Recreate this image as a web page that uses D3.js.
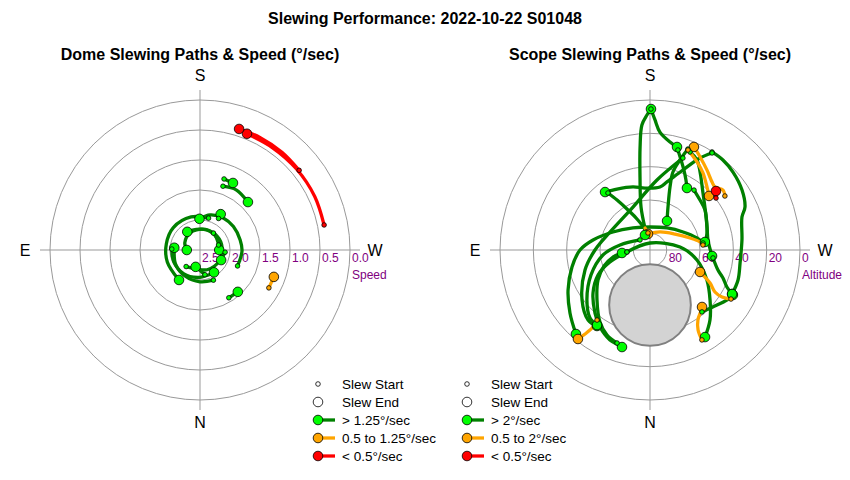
<!DOCTYPE html>
<html><head><meta charset="utf-8">
<script src="https://cdn.jsdelivr.net/npm/d3@7"></script>
<style>body{margin:0;background:#fff;} svg{display:block;font-family:Arial,"Liberation Sans",sans-serif;}</style>
</head><body><svg id="c" width="850" height="480"></svg>
<script>
const mainTitle = "Slewing Performance: 2022-10-22 S01048";
const domeTitle = "Dome Slewing Paths & Speed (°/sec)";
const scopeTitle = "Scope Slewing Paths & Speed (°/sec)";
const compass = [["S",180],["E",90],["W",270],["N",0]];
const speedTicks = [0.0,0.5,1.0,1.5,2.0,2.5];
const speedTickLabels = ["0.0","0.5","1.0","1.5","2.0","2.5"];
const altTicks = [0,20,40,60,80];
const altTickLabels = ["0","20","40","60","80"];
const domeLegend = ["Slew Start","Slew End","> 1.25°/sec","0.5 to 1.25°/sec","< 0.5°/sec"];
const scopeLegend = ["Slew Start","Slew End","> 2°/sec","0.5 to 2°/sec","< 0.5°/sec"];
const legendClasses = ["start","end","g","o","r"];

// dome slews: [azimuth°, speed°/s, speed class of segment]
const domePaths = [
 [[258.6,0.39,"r"],[245,0.39,"r"],[230,0.40,"r"],[215,0.41,"r"],[202,0.41,"r"]],
 [[231.2,0.38,"r"],[220,0.375,"r"],[208,0.375,"r"],[197.9,0.38,"r"]],
 [[198.7,1.25,"g"],[206.2,1.255,"g"]],
 [[199.8,1.37,"g"],[211,1.33,"g"],[225,1.37,"g"]],
 [[328.9,1.57,"g"],[317.9,1.56,"g"]],
 [[298.8,1.19,"o"],[290,1.19,"o"]],
 [[293,1.82,"g"],[272,1.80,"g"],[256,1.81,"g"],[235,1.82,"g"],[216,1.84,"g"],[196,1.89,"g"],[179,1.98,"g"]],
 [[210.5,1.89,"g"],[210,1.81,"g"]],
 [[195,1.95,"g"],[165,1.93,"g"],[130,1.92,"g"],[100,1.93,"g"],[70,1.92,"g"],[35,1.89,"g"]],
 [[40,2.14,"g"],[15,2.18,"g"],[340,2.15,"g"],[300,2.13,"g"],[270,2.13,"g"],[240,2.13,"g"],[205,2.14,"g"],[170,2.15,"g"],[145,2.13,"g"]],
 [[255,2.18,"g"],[225,2.15,"g"],[190,2.15,"g"],[150,2.17,"g"],[115,2.22,"g"],[90,2.28,"g"]],
 [[92,2.03,"g"],[65,2.02,"g"],[35,2.02,"g"],[5,2.04,"g"],[340,2.06,"g"],[328,2.06,"g"]],
 [[336,1.95,"g"],[0,1.97,"g"],[30,2.0,"g"],[60,2.03,"g"],[95,2.07,"g"]],
 [[275,2.08,"g"],[295.5,2.11,"g"]],
 [[218.5,2.14,"g"],[245,2.16,"g"],[270,2.18,"g"]],
 [[348.7,2.08,"g"],[14.4,2.21,"g"]]
];

// scope slews: [azimuth°, altitude°, speed class of segment]
const scopePaths = [
 [[262.5,57.9,"g"],[255.7,60.9,"g"],[241.4,67.4,"g"],[217.7,73.3,"g"],[180,76.2,"g"],[142.3,73.3,"g"],[115.9,65.3,"g"],[100,55.3,"g"],[90,48,"g"],[77.7,42.1,"g"],[64,35.3,"g"],[51.8,28.9,"g"],[41.4,22.8,"g"]],
 [[264.6,58.1,"o"],[260.9,59.6,"o"],[253.3,64.9,"o"],[237.4,72.2,"o"],[209.1,77.6,"o"],[172.9,80.3,"o"]],
 [[173.3,79.7,"o"],[167.2,76.5,"g"],[168.2,63.7,"g"],[172.2,45.8,"g"],[174.5,27.9,"g"],[176.3,14.8,"g"],[178.7,9.0,"g"],[180.4,5.4,"g"]],
 [[180.4,5.4,"g"],[182.2,11.9,"g"],[184.8,19.0,"g"],[190.5,24.1,"g"],[194.7,26.1,"g"]],
 [[212.3,20.4,"g"],[219,20.5,"g"],[226.8,21.7,"g"],[236.9,24.1,"g"],[245.6,27.4,"g"],[250.3,31.4,"g"],[263.8,34.5,"g"],[278.2,35.4,"g"],[288.8,34.2,"g"],[298.2,34.1,"g"]],
 [[212.6,20.9,"g"],[208.5,27.2,"g"],[202.4,38.1,"g"],[194,47.9,"g"],[189,51.7,"g"],[175.4,52.7,"g"],[164.9,50.8,"g"],[151.6,48.4,"g"],[142.2,46.0,"g"]],
 [[143.6,47.5,"g"],[146.6,54.1,"g"],[151.2,62.6,"g"],[157.2,69.8,"g"],[166,77.6,"g"],[161.6,80.5,"g"]],
 [[195.6,27.7,"g"],[203,37.9,"g"],[207.2,42.8,"g"],[210.8,46.7,"g"]],
 [[216.3,45.4,"g"],[225,47.6,"g"],[234,49.2,"g"],[248,53.1,"g"],[260.2,54.7,"g"],[275.5,52.6,"g"]],
 [[200.6,25.3,"g"],[198.4,33.1,"g"],[196.4,41.2,"g"],[197.6,50.3,"g"],[202.7,62.0,"g"],[210.4,69.8,"g"]],
 [[202.2,26.5,"g"],[207.6,29.1,"g"],[222.9,43.3,"g"],[253.4,54.3,"g"],[261.7,56.7,"g"]],
 [[199.7,31.4,"g"],[185.7,47.8,"g"],[158.4,62.3,"g"],[114.2,63.7,"g"],[90,57,"g"],[72.9,49.2,"g"],[53.7,39.4,"g"],[41.5,33.9,"g"],[34.9,34.4,"g"]],
 [[85,76.1,"g"],[73.3,64.9,"g"],[64.3,55.4,"g"],[53,47.2,"g"],[41.1,39.8,"g"],[33,34.9,"g"],[24,30.9,"g"],[19.3,30.2,"g"],[16.1,29.4,"g"]],
 [[19.5,30.8,"g"],[26.8,32.8,"g"],[34.8,37.4,"g"],[46.7,46.3,"g"],[60,54,"g"],[70.8,60.8,"g"],[79.3,67.4,"g"],[83.9,73.1,"g"]],
 [[135,81.5,"g"],[99.5,71.8,"g"],[83.9,61.6,"g"],[67,51.5,"g"],[51.6,41.7,"g"],[41.4,35.6,"g"],[35.2,34.9,"g"]],
 [[85,76.1,"g"],[180,85.8,"g"],[264.3,71.9,"g"],[282,61.2,"g"],[297.8,51.4,"g"],[309.8,43.1,"g"],[319.4,34.7,"g"],[327.7,28.2,"g"]],
 [[320,41.5,"g"],[309.4,38.0,"g"],[301,34.0,"g"],[298.5,33.4,"g"]],
 [[277.2,51.9,"g"],[286.4,47.5,"g"],[291,43.1,"g"],[295.7,38.8,"g"],[298.2,34.1,"g"]],
 [[37.1,37.3,"o"],[36.5,32.5,"o"],[37.7,26.3,"o"],[39.0,21.3,"o"]],
 [[330,27.7,"o"],[329,34.0,"o"],[325.6,39.1,"o"],[320.1,42.3,"o"],[317.6,43.7,"o"]],
 [[301.2,33.2,"o"],[303.1,38.4,"o"],[302.9,43.6,"o"],[298.8,48.9,"o"],[295.3,54.8,"o"],[293.7,57.2,"o"]],
 [[234.2,34.6,"o"],[230.6,33.3,"o"],[225.9,35.7,"o"],[222.4,34.8,"o"],[215.5,31.1,"o"],[208.3,26.6,"o"],[203.1,22.8,"o"]],
 [[200.8,25.8,"o"],[208.1,30.1,"o"],[214.5,33.9,"o"],[222.1,39.0,"o"],[227.5,42.0,"o"]],
 [[231.8,39.6,"r"],[228.2,36.9,"r"]]
];
const keepOutCenter = [0, 57];   // az, alt
const keepOutRadius = 24.5;      // degrees

const lineColor = {g:"#008000", o:"#FFA500", r:"#FF0000"};
const dotColor = {g:"#00FF00", o:"#FFA500", r:"#FF0000"};
const R = 150;
const svg = d3.select("#c");
const toRad = a => (a + 180) * Math.PI / 180;

svg.append("text").attr("x",425).attr("y",24).attr("text-anchor","middle")
  .attr("font-size",16).attr("font-weight","bold").text(mainTitle);

function runsOf(pts){
  const out=[]; let cur=[pts[0]];
  for(let i=1;i<pts.length;i++){
    cur.push(pts[i]);
    if(i<pts.length-1 && pts[i][2]!==cur[0][2]){ out.push(cur); cur=[pts[i]]; }
  }
  out.push(cur); return out;
}

function panel(cx, cy, title, rScale, ringVals, tickVals, tickLabels, axisName, paths, legendLabels, legendX, zone){
  svg.append("text").attr("x",cx).attr("y",60).attr("text-anchor","middle")
    .attr("font-size",16).attr("font-weight","bold").text(title);
  const g = svg.append("g").attr("transform",`translate(${cx},${cy})`);
  g.selectAll("circle.ring").data(ringVals).join("circle").attr("class","ring")
    .attr("r",d=>rScale(d)).attr("fill","none").attr("stroke","#999").attr("stroke-width",1);
  g.append("line").attr("x1",-160).attr("x2",160).attr("y1",0).attr("y2",0).attr("stroke","#999");
  g.append("line").attr("y1",-160).attr("y2",160).attr("x1",0).attr("x2",0).attr("stroke","#999");
  compass.forEach(([lab,az])=>{
    const p = d3.pointRadial(toRad(az), lab==="N"?172:175);
    g.append("text").attr("x",p[0]).attr("y",p[1]).attr("text-anchor","middle")
      .attr("dominant-baseline","central").attr("font-size",16).text(lab);
  });
  tickVals.forEach((v,i)=>{
    g.append("text").attr("x",rScale(v)+2).attr("y",12).attr("font-size",12)
      .attr("fill","#800080").text(tickLabels[i]);
  });
  g.append("text").attr("x",152).attr("y",29).attr("font-size",12).attr("fill","#800080").text(axisName);
  if(zone){
    const c = d3.pointRadial(toRad(zone[0][0]), rScale(zone[0][1]));
    g.append("circle").attr("cx",c[0]).attr("cy",c[1]).attr("r",rScale(90-zone[1]))
      .attr("fill","#d3d3d3").attr("stroke","#808080").attr("stroke-width",2);
  }
  const line = d3.lineRadial().angle(d=>toRad(d[0])).radius(d=>rScale(d[1])).curve(d3.curveCatmullRom.alpha(0.5));
  const segs=[];
  paths.forEach(p=>runsOf(p).forEach(r=>segs.push(r)));
  ["g","o","r"].forEach(cls=>{
    g.selectAll(null).data(segs.filter(s=>s[0][2]===cls)).join("path")
      .attr("d",line).attr("fill","none").attr("stroke",lineColor[cls])
      .attr("stroke-width",3.3).attr("stroke-linecap","round").attr("stroke-linejoin","round");
  });
  const pos = d => d3.pointRadial(toRad(d[0]), rScale(d[1]));
  paths.forEach(p=>{
    const e=p[p.length-1], c=p[p.length-2][2], q=pos(e);
    g.append("circle").attr("cx",q[0]).attr("cy",q[1]).attr("r",4.8)
      .attr("fill",dotColor[c]).attr("stroke","#000").attr("stroke-width",0.8);
  });
  paths.forEach(p=>{
    const s=p[0], q=pos(s);
    g.append("circle").attr("cx",q[0]).attr("cy",q[1]).attr("r",2.3)
      .attr("fill",dotColor[s[2]]).attr("stroke","#000").attr("stroke-width",0.8);
  });
  const lg = svg.append("g");
  legendLabels.forEach((lab,i)=>{
    const y = 384 + 18*i, cls = legendClasses[i];
    if(cls==="start"){
      lg.append("circle").attr("cx",legendX).attr("cy",y).attr("r",2.3).attr("fill","#fff").attr("stroke","#000").attr("stroke-width",0.8);
    } else if(cls==="end"){
      lg.append("circle").attr("cx",legendX).attr("cy",y).attr("r",4.8).attr("fill","#fff").attr("stroke","#000").attr("stroke-width",0.8);
    } else {
      lg.append("line").attr("x1",legendX).attr("x2",legendX+17).attr("y1",y).attr("y2",y)
        .attr("stroke",lineColor[cls]).attr("stroke-width",3.3);
      lg.append("circle").attr("cx",legendX).attr("cy",y).attr("r",4.8).attr("fill",dotColor[cls]).attr("stroke","#000").attr("stroke-width",0.8);
    }
    lg.append("text").attr("x",legendX+24).attr("y",y).attr("dominant-baseline","central")
      .attr("font-size",13.5).text(lab);
  });
}

const rSpeed = d3.scaleLinear().domain([2.5,0]).range([0,R]);
const rAlt = d3.scaleLinear().domain([90,0]).range([0,R]);
panel(200,250,domeTitle,rSpeed,speedTicks.filter(v=>v<2.5),speedTicks,speedTickLabels,"Speed",domePaths,domeLegend,318,null);
panel(650,250,scopeTitle,rAlt,altTicks,altTicks,altTickLabels,"Altitude",scopePaths,scopeLegend,467,[keepOutCenter,keepOutRadius]);
</script></body></html>
